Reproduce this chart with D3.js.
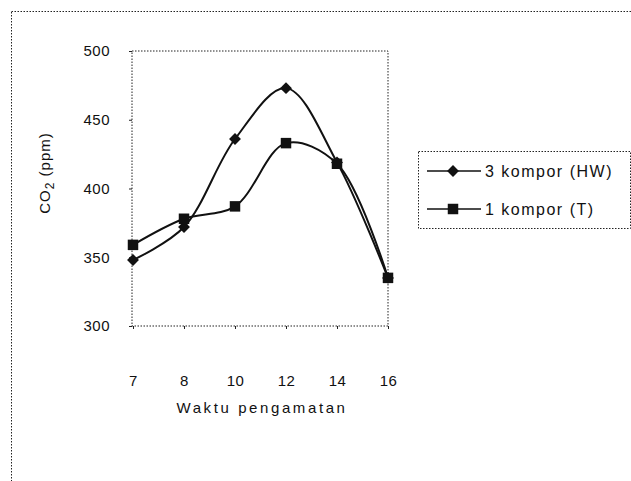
<!DOCTYPE html>
<html>
<head>
<meta charset="utf-8">
<script src="https://cdn.jsdelivr.net/npm/d3@7"></script>
<style>
    body { margin: 0; background: #fff; }
    text { font-family: "Liberation Sans", Arial, sans-serif; fill: #111; }
</style>
</head>
<body>
<svg id="chart" width="631" height="481"></svg>
<script>
//data
var jam = ["7", "8", "10", "12", "14", "16"],
    hwValues = [348, 372, 436, 473, 419, 335],  //3 kompor (HW)
    tValues = [359, 378, 387, 433, 418, 335],   //1 kompor (T)
    yTicks = [300, 350, 400, 450, 500],
    seriesNames = ["3 kompor (HW)", "1 kompor (T)"];

var svg = d3.select("#chart"),
    plot = {left: 132, right: 388, top: 51, bottom: 326},
    dotted = "1.5,1.5";

//outer chart area border (runs off the page right and bottom)
svg.append("rect")
    .attr("x", 11.5).attr("y", 11.5)
    .attr("width", 700).attr("height", 600)
    .attr("fill", "none")
    .attr("stroke", "#222")
    .attr("stroke-dasharray", dotted);

var x = d3.scalePoint()
    .domain(jam)
    .range([plot.left + 1, plot.right]);
var y = d3.scaleLinear()
    .domain([300, 500])
    .range([plot.bottom, plot.top]);

//plot area frame
svg.append("rect")
    .attr("x", plot.left).attr("y", plot.top)
    .attr("width", plot.right - plot.left).attr("height", plot.bottom - plot.top)
    .attr("fill", "none")
    .attr("stroke", "#222")
    .attr("stroke-dasharray", dotted);

var yAxis = svg.append("g")
    .attr("transform", "translate(" + plot.left + ",0)")
    .call(d3.axisLeft(y).tickValues(yTicks).tickSize(3).tickPadding(19));
var xAxis = svg.append("g")
    .attr("transform", "translate(0," + plot.bottom + ")")
    .call(d3.axisBottom(x).tickSize(3).tickPadding(46));
[yAxis, xAxis].forEach(function (ax) {
    ax.select(".domain").remove();
    ax.selectAll("line").attr("stroke", "#222");
    ax.selectAll("text")
        .attr("font-size", 15)
        .attr("font-family", "Liberation Sans, Arial, sans-serif")
        .attr("letter-spacing", 0.5)
        .attr("fill", "#111");
});

//axis titles
svg.append("text")
    .attr("x", 262).attr("y", 413)
    .attr("text-anchor", "middle")
    .attr("font-size", 15)
    .attr("letter-spacing", 2.6)
    .text("Waktu pengamatan");

var yTitle = svg.append("text")
    .attr("transform", "translate(50,173) rotate(-90)")
    .attr("text-anchor", "middle")
    .attr("font-size", 15)
    .attr("letter-spacing", 1);
yTitle.append("tspan").text("CO");
yTitle.append("tspan").attr("font-size", 12).attr("dy", 4).text("2");
yTitle.append("tspan").attr("dy", -4).text(" (ppm)");

//smoothed lines + markers
var line = d3.line()
    .x(function (d, i) { return x(jam[i]); })
    .y(function (d) { return y(d); })
    .curve(d3.curveCatmullRom.alpha(0.5));

var series = [
    {name: seriesNames[0], values: hwValues, symbol: d3.symbolDiamond2, size: 90},
    {name: seriesNames[1], values: tValues, symbol: d3.symbolSquare, size: 110}
];

series.forEach(function (s) {
    svg.append("path")
        .datum(s.values)
        .attr("d", line)
        .attr("fill", "none")
        .attr("stroke", "#111")
        .attr("stroke-width", 2);
    svg.selectAll(null)
        .data(s.values)
        .enter().append("path")
            .attr("transform", function (d, i) { return "translate(" + x(jam[i]) + "," + y(d) + ")"; })
            .attr("d", d3.symbol().type(s.symbol).size(s.size))
            .attr("fill", "#111");
});

//legend
var legend = svg.append("g").attr("transform", "translate(418,151)");
legend.append("rect")
    .attr("x", 0.5).attr("y", 0.5)
    .attr("width", 212).attr("height", 77)
    .attr("fill", "#fff")
    .attr("stroke", "#222")
    .attr("stroke-dasharray", dotted);
var item = legend.selectAll("g.item")
    .data(series)
    .enter().append("g")
        .attr("class", "item")
        .attr("transform", function (d, i) { return "translate(0," + (20 + i * 38) + ")"; });
item.append("line")
    .attr("x1", 9).attr("x2", 63)
    .attr("stroke", "#111")
    .attr("stroke-width", 1.5);
item.append("path")
    .attr("transform", "translate(35,0)")
    .attr("d", function (d) { return d3.symbol().type(d.symbol).size(d.size)(); })
    .attr("fill", "#111");
item.append("text")
    .attr("x", 67).attr("y", 6)
    .attr("font-size", 16)
    .attr("letter-spacing", 1.5)
    .text(function (d) { return d.name; });
</script>
</body>
</html>
